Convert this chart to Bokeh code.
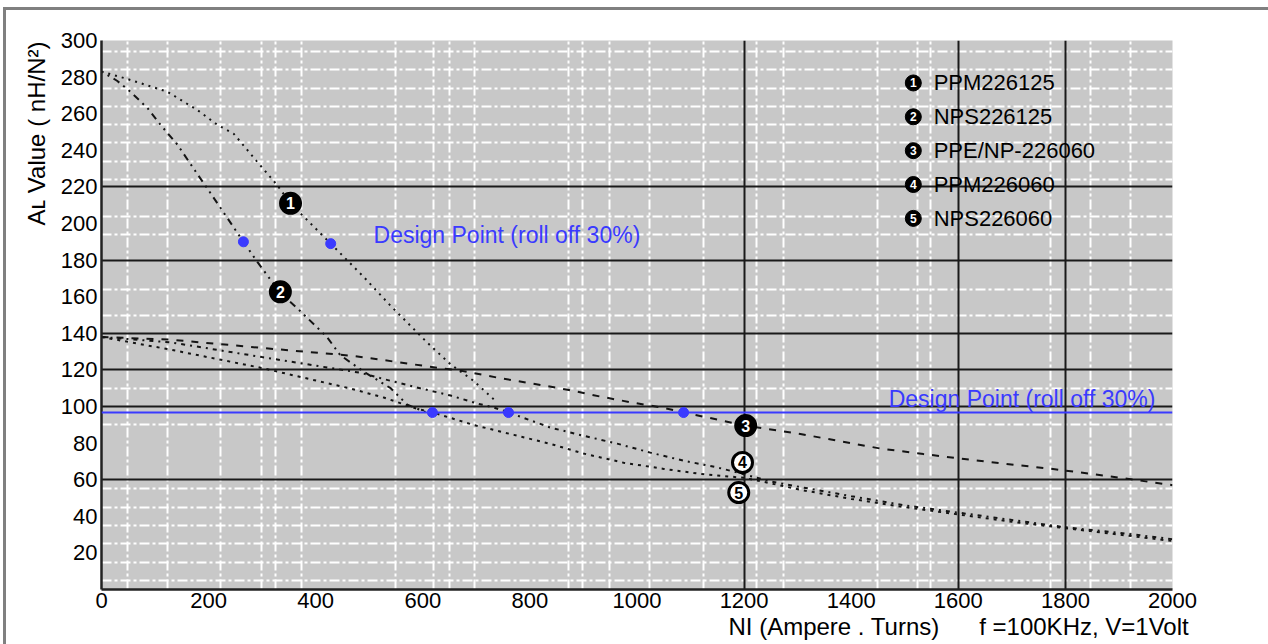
from bokeh.plotting import figure
from bokeh.models import Range1d, FixedTicker, Grid, Span, Title
from bokeh.core.properties import value
from bokeh.embed import file_html
from bokeh.resources import INLINE

# ---------------- data ----------------
x_ticks = [0, 200, 400, 600, 800, 1000, 1200, 1400, 1600, 1800, 2000]
y_ticks = [20, 40, 60, 80, 100, 120, 140, 160, 180, 200, 220, 240, 260, 280, 300]

# PPM226125
c1_x = [0, 48, 123, 179, 216, 247, 290, 328, 353, 428, 489, 540, 608, 652, 695, 736]
c1_y = [283, 279, 272, 262, 254, 249, 234, 221, 211, 189, 171, 155, 135, 123, 114, 103]
# NPS226125
c2_x = [0, 29, 54, 86, 110, 142, 179, 198, 235, 265, 291, 334, 368, 421, 446, 490, 540, 571, 605]
c2_y = [283, 278, 272, 263, 254, 243, 227, 219, 203, 190, 179, 162, 153, 138, 128, 119, 110, 101, 97]
# PPE/NP-226060
c3_x = [0, 130, 300, 465, 521, 573, 627, 670, 739, 805, 870, 932, 994, 1047, 1087, 1203,
        1305, 1380, 1455, 1535, 1592, 1679, 1772, 1853, 1928, 2000]
c3_y = [138, 136.5, 132, 127.8, 125.6, 123.4, 121.2, 119.6, 115.8, 112.5, 109.2, 105.4, 102, 99.4, 96.8, 89.5,
        85, 81, 77, 74, 72, 69, 66, 63, 60, 57]
# PPM226060
c4_x = [0, 130, 300, 484, 527, 589, 652, 702, 732, 760, 838, 900, 963, 1025, 1087, 1150, 1199,
        1250, 1305, 1400, 1500, 1600, 1700, 1800, 1900, 2000]
c4_y = [138, 135, 127, 118.4, 115, 110.4, 106, 101.6, 99.5, 96.8, 88.5, 84, 79.7, 74.8, 70.4, 66.7, 63,
        59, 56, 51, 46, 42, 38, 34, 31, 27.5]
# NPS226060
c5_x = [0, 130, 300, 465, 527, 589, 618, 695, 770, 838, 900, 975, 1050, 1118, 1200,
        1250, 1305, 1400, 1500, 1600, 1700, 1800, 1900, 2000]
c5_y = [138, 131, 121, 109.8, 104.9, 98.8, 96.8, 89.9, 84.5, 79.6, 74.3, 69.3, 65.9, 63.2, 61,
        58, 54.5, 49.5, 45, 41, 37, 33.5, 30, 26.5]

design_level = 96.7
dp_x = [265, 428, 618, 760, 1087]
dp_y = [190, 189, 96.7, 96.7, 96.7]

# numbered markers on the curves
mk_x = [353, 334, 1203, 1197, 1190]
mk_y = [211, 162.7, 89.6, 69.4, 53]
mk_num = ["1", "2", "3", "4", "5"]

series_names = ["PPM226125", "NPS226125", "PPE/NP-226060", "PPM226060", "NPS226060"]
series_nums = ["1", "2", "3", "4", "5"]

design_label = "Design Point (roll off 30%)"
x_title = "NI (Ampere . Turns)" + "\u00a0" * 6 + "f =100KHz, V=1Volt"
y_title = "A\u029f Value ( nH/N\u00b2)"

# grid positions (white dash-dot minor lines and black major lines)
grid_x_white = [49, 123, 222, 299, 325, 373, 549, 620, 650, 697, 872, 898, 949, 1023, 1124,
                1223, 1273, 1449, 1524, 1548, 1772, 1847, 1921]
grid_y_white = [5, 15, 25, 35, 45, 55, 90, 110, 150, 164, 194, 204, 224, 234, 244, 254, 264, 274, 284, 294]
grid_x_black = [1200, 1600, 1800]
grid_y_black = [60, 100, 120, 140, 180, 220]

# ---------------- figure ----------------
p = figure(width=1268, height=644, output_backend="svg", toolbar_location=None,
           x_range=Range1d(0, 2000), y_range=Range1d(0, 300),
           min_border_left=101, min_border_right=96, min_border_top=40, min_border_bottom=55,
           background_fill_color="#c8c8c8", border_fill_color=None, outline_line_color=None,
           styles={"box-shadow": "inset 3px 7px 0 0 #ffffff, inset 6px 10px 0 0 #808080"})

p.xgrid.grid_line_color = None
p.ygrid.grid_line_color = None

p.add_layout(Grid(dimension=0, ticker=FixedTicker(ticks=grid_x_white), grid_line_color="white",
                  grid_line_width=2, grid_line_dash="10 3 3 3"))
p.add_layout(Grid(dimension=1, ticker=FixedTicker(ticks=grid_y_white), grid_line_color="white",
                  grid_line_width=2, grid_line_dash="10 3 3 3"))
p.add_layout(Grid(dimension=0, ticker=FixedTicker(ticks=grid_x_black), grid_line_color="#1a1a1a",
                  grid_line_width=2))
p.add_layout(Grid(dimension=1, ticker=FixedTicker(ticks=grid_y_black), grid_line_color="#1a1a1a",
                  grid_line_width=2))

for ax in (p.xaxis[0], p.yaxis[0]):
    ax.axis_line_color = "#222222"
    ax.axis_line_width = 2.5
    ax.major_tick_out = 0
    ax.major_tick_in = 0
    ax.minor_tick_out = 0
    ax.minor_tick_in = 0
    ax.major_label_text_font = "Liberation Sans"
    ax.major_label_text_font_size = "22px"
    ax.major_label_text_color = "black"
p.xaxis.ticker = FixedTicker(ticks=x_ticks)
p.yaxis.ticker = FixedTicker(ticks=y_ticks)
p.xaxis.major_label_standoff = 3
p.yaxis.major_label_standoff = 4

# axis titles (as side titles so they can sit outside the frame)
p.add_layout(Title(text=y_title, align="left", offset=364, standoff=16,
                   text_font="Liberation Sans", text_font_size="24px", text_font_style="normal",
                   text_color="black"), "left")
p.add_layout(Title(text=x_title, align="left", offset=627, standoff=0,
                   text_font="Liberation Sans", text_font_size="24px", text_font_style="normal",
                   text_color="black"), "below")

# curves
lc = "#141414"
p.line(c1_x, c1_y, line_color=lc, line_width=2, line_dash="2 5")
p.line(c2_x, c2_y, line_color=lc, line_width=2, line_dash="2 5 2 5 7 5")
p.line(c3_x, c3_y, line_color=lc, line_width=2, line_dash="7 8")
p.line(c4_x, c4_y, line_color=lc, line_width=2, line_dash="4 5 2 5")
p.line(c5_x, c5_y, line_color=lc, line_width=2, line_dash="3 5")

blue = "#3a3aff"
p.add_layout(Span(location=design_level, dimension="width", line_color=blue, line_width=2))
p.scatter(dp_x, dp_y, size=10, color=blue)

# numbered markers: 1-3 filled black, 4-5 white with thick black ring
fills = ["black", "black", "black", "white", "white"]
digit_colors = ["white", "white", "white", "black", "black"]
p.scatter(mk_x, mk_y, size=20, fill_color=fills, line_color="black", line_width=3)
p.text(x=mk_x, y=mk_y, text=mk_num, text_font=value("Liberation Sans"), text_font_size="16px",
       text_font_style="bold", text_align="center", text_baseline="middle", text_color=digit_colors)

# design point texts
p.text(x=[508, 1470], y=[193.8, 104.3], text=[design_label, design_label],
       text_font=value("Liberation Sans"), text_font_size="23px", text_color=blue,
       text_align="left", text_baseline="alphabetic")

# legend (drawn as marks + text)
n = len(series_names)
leg_y = [276.8 - 18.5 * i for i in range(n)]
p.scatter([1516] * n, leg_y, size=16, fill_color="black", line_color="black")
p.text(x=[1516] * n, y=leg_y, text=series_nums, text_font=value("Liberation Sans"),
       text_font_size="12px", text_font_style="bold", text_align="center", text_baseline="middle",
       text_color="white")
p.text(x=[1554] * n, y=leg_y, text=series_names, text_font=value("Liberation Sans"),
       text_font_size="22px", text_align="left", text_baseline="middle", text_color="black")

open("out.html", "w").write(file_html(p, INLINE))
